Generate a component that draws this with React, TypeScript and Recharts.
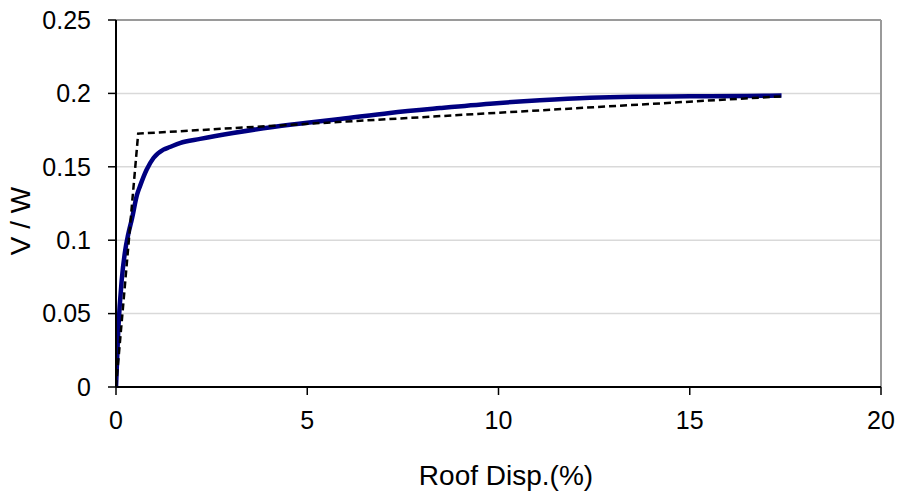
import React from 'react';
import { LineChart, Line, XAxis, YAxis, CartesianGrid, ReferenceLine } from 'recharts';

const pushoverDisp = [0, 0.06, 0.15, 0.24, 0.32, 0.42, 0.55, 0.63, 0.8, 0.98, 1.24, 1.41, 1.67, 2.2, 3.06, 4.55, 5.0, 5.86, 7.16, 8.47, 9.78, 11.08, 12.39, 13.5, 15.0, 16.5, 17.4];
const pushoverVW = [0, 0.039, 0.073, 0.093, 0.104, 0.115, 0.131, 0.137, 0.148, 0.156, 0.1617, 0.1635, 0.1662, 0.169, 0.173, 0.1787, 0.18, 0.1826, 0.1867, 0.19, 0.193, 0.1953, 0.197, 0.1977, 0.198, 0.1983, 0.1985];

const bilinearDisp = [0, 0.58, 17.4];
const bilinearVW = [0, 0.1726, 0.198];

const xTicks = [0, 5, 10, 15, 20];
const yTicks = [0, 0.05, 0.1, 0.15, 0.2, 0.25];

const pushoverData = pushoverDisp.map((x, i) => ({ x, y: pushoverVW[i] }));
const bilinearData = bilinearDisp.map((x, i) => ({ x, y: bilinearVW[i] }));

const FONT = '"Liberation Sans", Arial, sans-serif';

export default function App() {
  return (
    <div style={{ position: 'absolute', left: 0, top: 0, width: 900, height: 493, background: '#fff' }}>
      <LineChart
        width={900}
        height={493}
        margin={{ top: 20, right: 19, bottom: 0, left: 0 }}
        style={{ fontFamily: FONT }}
      >
        <CartesianGrid horizontal={true} vertical={false} stroke="#d9d9d9" strokeWidth={1.5} />
        <XAxis
          type="number"
          dataKey="x"
          domain={[0, 20]}
          ticks={xTicks}
          height={106}
          tickSize={8}
          tickMargin={16}
          axisLine={{ stroke: '#000', strokeWidth: 2 }}
          tickLine={{ stroke: '#000', strokeWidth: 1.5 }}
          tick={{ fill: '#000', fontSize: 25, fontFamily: FONT }}
          allowDataOverflow
          label={() => (
            <text x={506} y={485} textAnchor="middle" fontSize={28} fontFamily={FONT} fill="#000">
              Roof Disp.(%)
            </text>
          )}
        />
        <YAxis
          type="number"
          dataKey="y"
          domain={[0, 0.25]}
          ticks={yTicks}
          width={116}
          tickSize={8}
          tickMargin={17}
          axisLine={{ stroke: '#000', strokeWidth: 2 }}
          tickLine={{ stroke: '#000', strokeWidth: 1.5 }}
          tick={{ fill: '#000', fontSize: 25, fontFamily: FONT }}
          allowDataOverflow
          label={() => (
            <text
              x={30}
              y={221}
              textAnchor="middle"
              fontSize={28}
              fontFamily={FONT}
              fill="#000"
              transform="rotate(-90 30 221)"
            >
              V / W
            </text>
          )}
        />
        <ReferenceLine y={0.25} stroke="#9a9a9a" strokeWidth={2} />
        <ReferenceLine x={20} stroke="#9a9a9a" strokeWidth={2} />
        <Line
          data={pushoverData}
          dataKey="y"
          type="monotone"
          stroke="#000080"
          strokeWidth={4.5}
          dot={false}
          isAnimationActive={false}
        />
        <Line
          data={bilinearData}
          dataKey="y"
          type="linear"
          stroke="#000"
          strokeWidth={2.5}
          strokeDasharray="7 4"
          dot={false}
          isAnimationActive={false}
        />
      </LineChart>
    </div>
  );
}
